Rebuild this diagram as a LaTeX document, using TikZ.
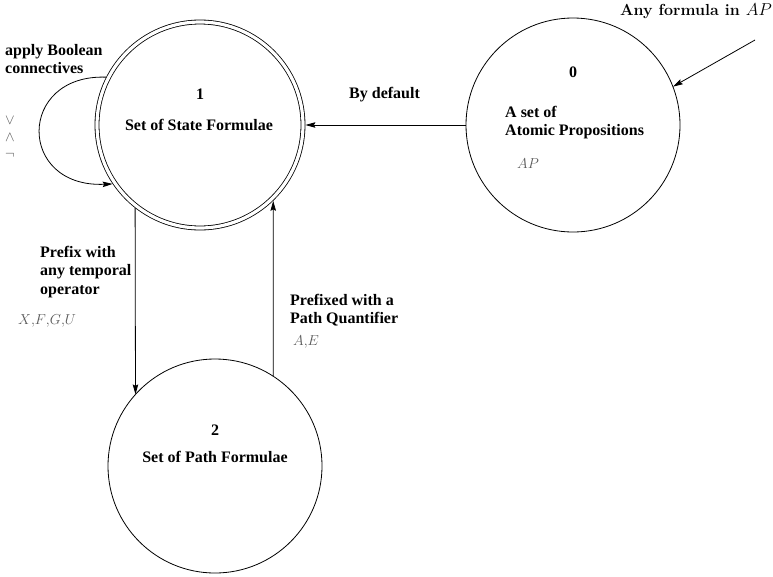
\documentclass[tikz,border=0pt]{standalone}
\usepackage{fontspec}
\setmainfont{Liberation Serif}
\newfontfamily\lmfont{Latin Modern Roman}
\usetikzlibrary{arrows.meta}
\begin{document}
\begin{tikzpicture}[x=1pt,y=-1pt,
  state/.style={circle,draw,line width=0.8pt,inner sep=0pt,outer sep=0pt},
  lbl/.style={font=\fontsize{16}{18.5}\selectfont\bfseries,inner sep=0pt,align=left},
  mth/.style={text=black!65,inner sep=0pt,font=\fontsize{15}{18}\selectfont},
  conn/.style={line width=0.8pt,-{Stealth[length=10pt,width=5.5pt,inset=1.5pt]}}
]
\useasboundingbox (0,0) rectangle (773,576);

% the three states
\node[state,minimum size=214pt] (s0) at (573,125) {};
\node[state,double,double distance=3.2pt,minimum size=206pt,outer sep=2.4pt] (s1) at (200,125) {};
\node[state,minimum size=214pt] (s2) at (215,466) {};

% state texts
\node[lbl,anchor=base] (n0) at (573,77) {0};
\node[lbl,anchor=north west] (t0) at (505,106) {A set of\\Atomic Propositions};
\node[mth,anchor=base west] (ap0) at (517,168) {$AP$};

\node[lbl,anchor=base] (n1) at (200,99) {1};
\node[lbl,anchor=base] (t1) at (199,130) {Set of State Formulae};

\node[lbl,anchor=base] (n2) at (215,435) {2};
\node[lbl,anchor=base] (t2) at (215,462) {Set of Path Formulae};

% transition labels
\node[lbl,anchor=base east] (inlbl) at (772,15) {\lmfont Any formula in $AP$};
\node[lbl,anchor=base west] (bd) at (349,98) {By default};
\node[lbl,anchor=north west] (bool) at (5,44) {apply Boolean\\connectives};
\node[mth] (vor) at (10,120) {$\vee$};
\node[mth] (vand) at (10,137) {$\wedge$};
\node[mth] (vneg) at (10,155) {$\neg$};
\node[lbl,anchor=north west] (tmp) at (40,246) {Prefix with\\any temporal\\operator};
\node[mth,anchor=base west] (ops) at (18,324) {$X{,}F{,}G{,}U$};
\node[lbl,anchor=north west] (pq) at (290,294) {Prefixed with a\\Path Quantifier};
\node[mth,anchor=base west] (qs) at (293,345) {$A{,}E$};

% transitions
\coordinate (src) at (755,40);
\draw[conn] (src) -- (s0.21);
\draw[conn] (s0) -- (s1);
\draw[conn] (s1.153) .. controls (17,74) and (17,188) .. (s1.214);
\draw[conn] (s1.232) -- (s2.138);
\draw[conn] (s2.57) -- (s1.314);
\end{tikzpicture}
\end{document}
